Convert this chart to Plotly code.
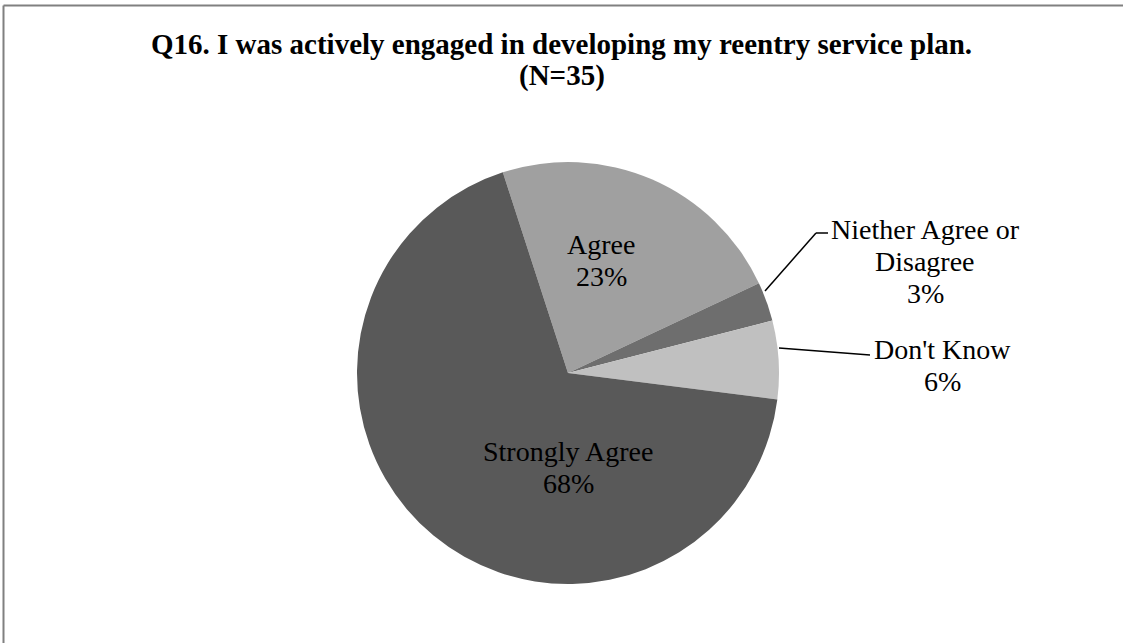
import plotly.graph_objects as go

# Survey responses (share of respondents, %)
categories = ["Agree", "Niether Agree or Disagree", "Don't Know", "Strongly Agree"]
label_lines = [["Agree"], ["Niether Agree or", "Disagree"], ["Don't Know"], ["Strongly Agree"]]
values = [23, 3, 6, 68]
colors = ["#a0a0a0", "#6e6e6e", "#c0c0c0", "#595959"]

title_lines = ["Q16. I was actively engaged in developing my reentry service plan.", "(N=35)"]

W, H = 1123, 643
cx, cy, r = 568, 373, 211  # pie centre / radius in pixels

fig = go.Figure(go.Pie(
    labels=categories,
    values=values,
    sort=False,
    direction="clockwise",
    rotation=-18,
    marker=dict(colors=colors, line=dict(width=0)),
    textinfo="none",
    hoverinfo="label+percent",
    showlegend=False,
    domain=dict(x=[(cx - r) / W, (cx + r) / W], y=[(H - cy - r) / H, (H - cy + r) / H]),
))

total = sum(values)
pct = [f"{round(v / total * 100)}%" for v in values]

SERIF = "Liberation Serif, Times New Roman, serif"
LINE_GAP = 32  # pixel spacing between label lines

# centre x and first-line y (pixels) of each slice label
label_pos = [(601, 244), (925, 229), (942, 349), (568, 451)]

annotations = []

def add_text(text, x, y, size, bold=False):
    annotations.append(dict(
        x=x / W, y=1 - y / H, xref="paper", yref="paper",
        text=f"<b>{text}</b>" if bold else text, showarrow=False,
        font=dict(family=SERIF, size=size, color="#000000"),
        xanchor="center", yanchor="middle",
    ))

for lines, p, (x, y) in zip(label_lines, pct, label_pos):
    for i, line in enumerate(lines + [p]):
        add_text(line, x, y + i * LINE_GAP, 28)

for i, line in enumerate(title_lines):
    add_text(line, W / 2, 44 + i * 31, 29, bold=True)

def px_line(x0, y0, x1, y1, color="#000000", width=1.5):
    return dict(type="line", xref="paper", yref="paper",
                x0=x0 / W, y0=1 - y0 / H, x1=x1 / W, y1=1 - y1 / H,
                line=dict(color=color, width=width))

shapes = [
    # leader lines
    px_line(765, 291, 816, 233), px_line(816, 233, 828, 233),
    px_line(779, 348, 870, 355),
    # chart-area border (top and left)
    px_line(3.5, 5.5, W, 5.5, color="#808080", width=2),
    px_line(3.5, 5.5, 3.5, H, color="#808080", width=2),
]

fig.update_layout(
    width=W, height=H,
    margin=dict(l=0, r=0, t=0, b=0),
    paper_bgcolor="#ffffff", plot_bgcolor="#ffffff",
    annotations=annotations, shapes=shapes,
)

fig.write_html("out.html")
